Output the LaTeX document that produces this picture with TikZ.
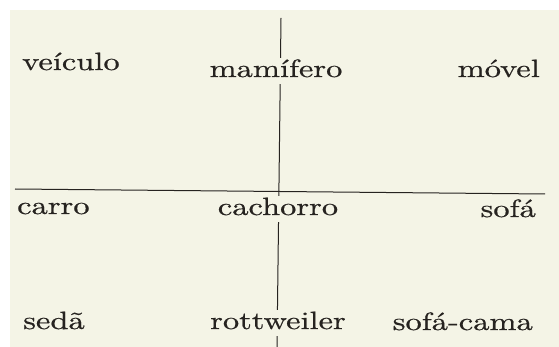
\documentclass[tikz,border=0pt]{standalone}
\usepackage{fontspec}
\usepackage{tikz}
\usetikzlibrary{positioning}

\newfontfamily\wordfont{lmroman10-regular}[Extension=.otf, FakeStretch=1.3, FakeBold=0.6]
\definecolor{paper}{RGB}{244,244,230}
\definecolor{ink}{RGB}{38,35,32}

\begin{document}
\begin{tikzpicture}[x=1pt, y=-1pt]
      % Define styles for nodes
      \tikzset{
        wordnode/.style={font=\wordfont\fontsize{25}{29}\selectfont, text=ink, fill=paper,
          inner sep=2pt, text height=17pt, text depth=5pt},
        axisline/.style={draw=ink, line width=1pt}
      }

      % Paper and frame of the picture
      \useasboundingbox (0,0) rectangle (559,347);
      \fill[paper] (10,10) rectangle (559,347);

      % End points of the two lines
      \coordinate (vtop) at (281,18);
      \coordinate (vbot) at (277,347);
      \coordinate (hleft) at (15,189);
      \coordinate (hright) at (545,194);

      % Draw the lines
      \draw[axisline] (vtop) -- (vbot);
      \draw[axisline] (hleft) -- (hright);

      % Words of the top row
      \node[wordnode, anchor=base west] (veiculo) at (20,70) {veículo};
      \node[wordnode, anchor=base] (mamifero) at (276,77) {mamífero};
      \node[wordnode, anchor=base east] (movel) at (542,77) {móvel};

      % Words of the middle row
      \node[wordnode, anchor=base west] (carro) at (15,214) {carro};
      \node[wordnode, anchor=base] (cachorro) at (278,215) {cachorro};
      \node[wordnode, anchor=base east] (sofa) at (538,217) {sofá};

      % Words of the bottom row
      \node[wordnode, anchor=base west] (seda) at (21,329) {sedã};
      \node[wordnode, anchor=base] (rottweiler) at (278,329) {rottweiler};
      \node[wordnode, anchor=base east] (sofacama) at (535,330) {sofá-cama};
    \end{tikzpicture}
\end{document}
